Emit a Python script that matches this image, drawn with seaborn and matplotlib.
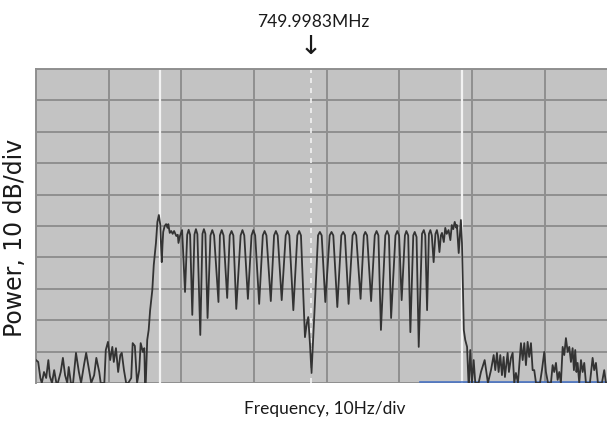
import matplotlib
matplotlib.use("Agg")
import matplotlib.pyplot as plt
import seaborn as sns

# trace: frequency (Hz from left edge), power (dB above bottom line)
noise_left_f = [0.0, 0.3, 0.6, 0.8, 1.1, 1.4, 1.7, 1.9, 2.2, 2.5, 2.8, 3.0, 3.4, 3.7, 4.0, 4.3,
                4.5, 4.8, 5.1, 5.5, 5.9, 6.2, 6.6, 6.9, 7.3, 7.6, 8.0, 8.3, 8.7, 8.9, 9.4, 9.6,
                9.9, 10.2, 10.5, 10.7, 11.0, 11.3, 11.6, 11.8, 12.1, 12.4, 12.7, 13.1, 13.3,
                13.6, 13.9, 14.2, 14.4, 14.7, 14.9, 15.0, 15.1]
noise_left_p = [7.3, 6.7, 1.6, 0.0, 3.5, 1.6, 7.3, 2.2, 0.0, 4.1, 0.0, 0.0, 3.5, 8.0, 2.5, 0.0,
                5.1, 0.0, 0.0, 9.6, 3.5, 0.0, 5.7, 9.6, 4.1, 0.0, 2.5, 8.0, 3.5, 0.0, 0.0, 10.5,
                13.1, 7.3, 11.5, 6.7, 11.1, 3.5, 8.9, 9.6, 4.1, 0.0, 0.0, 1.6, 12.7,
                11.8, 0.0, 4.1, 12.7, 9.9, 11.1, 0.0, 0.0]

rise_f = [15.3, 15.5, 15.7, 16.0, 16.2, 16.5, 16.7, 16.9, 17.1, 17.2, 17.3, 17.4, 17.5, 17.7,
          17.9, 18.1, 18.2, 18.4, 18.6, 18.8, 19.0, 19.3, 19.5, 19.6, 19.8, 20.1]
rise_p = [13.7, 16.9, 23.2, 29.6, 37.6, 44.6, 51.3, 53.5, 50.3, 43.9, 38.5, 43.9, 48.1, 50.0,
          50.6, 49.4, 50.6, 47.8, 48.4, 47.5, 48.4, 46.8, 47.2, 44.6, 46.8, 48.7]

comb_f = [20.5, 20.8, 21.0, 21.2, 21.5, 21.8, 22.0, 22.2, 22.6, 22.9, 23.1, 23.3, 23.6, 24.0,
          24.25, 24.5, 25.1, 25.3, 25.55, 25.8, 26.3, 26.65, 26.9, 27.15, 27.55, 28.15, 28.4,
          28.65, 29.15, 29.65, 29.9, 30.15, 30.7, 31.2, 31.45, 31.7, 32.3, 32.75, 33.0, 33.25,
          33.8, 34.35, 34.6, 34.85, 35.4, 35.95, 36.2, 36.45, 37.0, 37.25, 37.45, 37.7, 37.9,
          38.15, 38.4, 38.8, 39.05, 39.3, 39.8, 40.4, 40.65, 40.9, 41.45, 42.0, 42.25, 42.5,
          43.0, 43.55, 43.8, 44.05, 44.65, 45.1, 45.3, 45.55, 46.1, 46.6, 46.85, 47.1, 47.45,
          48.05, 48.3, 48.55, 48.85, 49.45, 49.7, 49.95, 50.3, 50.75, 50.95, 51.2, 51.5, 51.9,
          52.1, 52.35, 52.65, 53.1, 53.35, 53.55, 53.8, 54.05, 54.25, 54.45, 54.7, 54.95, 55.15,
          55.3, 55.5, 55.7, 55.85, 56.0, 56.1, 56.3, 56.5, 56.75, 57.0, 57.2, 57.4, 57.6, 57.8,
          57.9, 58.15, 58.45, 58.6, 58.85, 59.05, 59.3, 59.5]
comb_p = [29.0, 47.2, 48.8, 47.2, 21.7, 47.3, 49.0, 47.4, 15.3, 47.5, 49.0, 47.5, 20.7, 47.0,
          48.7, 47.0, 25.8, 47.0, 48.7, 47.0, 27.1, 47.0, 48.4, 47.0, 23.6, 47.0, 48.7,
          47.0, 26.8, 47.0, 48.7, 47.0, 25.2, 47.0, 48.4, 47.0, 26.1, 47.0, 48.4, 47.0,
          26.4, 47.0, 48.4, 47.0, 23.2, 47.0, 48.4, 47.0, 14.6, 19.0, 21.0, 12.0, 3.2,
          15.0, 27.1, 47.0, 48.1, 47.0, 25.8, 47.0, 48.1, 47.0, 24.2, 47.0, 48.1, 47.0,
          25.2, 47.0, 48.1, 47.0, 26.8, 47.0, 48.1, 47.0, 26.1, 47.0, 48.4, 47.0, 16.9,
          47.0, 48.4, 47.0, 20.7, 47.0, 48.4, 47.0, 26.4, 47.0, 48.4, 47.0, 16.2, 47.0,
          48.1, 46.5, 11.5, 47.5, 48.7, 47.0, 23.2, 47.5, 48.7, 47.0, 38.5, 47.5, 48.7,
          47.0, 41.7, 47.0, 47.8, 46.0, 44.9, 49.4, 47.5, 48.7, 45.5, 50.3, 49.0, 51.3, 49.5,
          50.3, 41.4, 51.9, 44.6, 16.9, 13.7, 11.5, 0.0]

noise_right_f = [59.56, 59.74, 59.97, 60.21, 60.43, 60.89, 61.21, 61.72, 62.17, 62.59, 62.96,
                 63.18, 63.41, 63.64, 63.87, 64.10, 64.33, 64.51, 64.88, 65.06, 65.34, 65.57,
                 65.79, 66.02, 66.30, 66.71, 66.95, 67.17, 67.40, 67.63, 67.85, 68.09, 68.32,
                 68.54, 68.78, 69.33, 69.60, 69.92, 70.15, 70.43, 70.84, 71.07, 71.29, 71.53,
                 71.76, 71.98, 72.21, 72.45, 72.67, 72.90, 73.14, 73.36, 73.59, 73.82, 74.00,
                 74.18, 74.35, 74.51, 74.73, 74.97, 75.20, 75.42, 75.65, 76.20, 76.57, 76.79,
                 77.03, 77.30, 77.85, 78.17, 78.40, 78.54]
noise_right_p = [0.0, 10.5, 0.0, 7.3, 0.0, 0.0, 3.5, 7.3, 0.0, 4.1, 8.9,
                 4.1, 9.6, 3.5, 8.9, 2.5, 8.3, 1.9, 9.6, 3.5, 8.0, 9.6,
                 0.0, 3.2, 0.0, 12.7, 7.3, 12.7, 5.7, 13.1, 8.3, 12.7, 4.1,
                 4.1, 0.0, 0.0, 4.1, 9.9, 3.5, 0.0, 0.0, 5.7, 3.5, 6.4,
                 1.0, 3.5, 0.0, 11.5, 8.9, 14.3, 9.9, 11.5, 6.7, 11.1, 4.1,
                 10.5, 3.5, 6.4, 0.0, 7.3, 3.5, 6.4, 0.0, 0.0, 8.0, 4.1,
                 6.4, 0.0, 0.0, 4.1, 0.0, 0.0]

freq = noise_left_f + rise_f + comb_f + noise_right_f
power = noise_left_p + rise_p + comb_p + noise_right_p

band_edges = [17.05, 58.65]
marker_f = 37.85
marker_label = "749.9983MHz"

fig = plt.figure(figsize=(6.07, 4.26), dpi=100)
ax = fig.add_axes([36 / 607, 43 / 426, 571 / 607, 314 / 426])
ax.set_facecolor("#c3c3c3")

ax.set_xticks(range(0, 80, 10))
ax.set_yticks(range(0, 101, 10))
ax.grid(True, color="#8f8f8f", linewidth=1.4)
ax.set_axisbelow(True)
ax.tick_params(length=0, labelbottom=False, labelleft=False)
for s in ["right", "bottom"]:
    ax.spines[s].set_visible(False)
for s in ["top", "left"]:
    ax.spines[s].set_color("#8f8f8f")
    ax.spines[s].set_linewidth(1.4)

for b in band_edges:
    ax.axvline(b, color="#f2f2f2", linewidth=1.6, zorder=1.5)
ax.axvline(marker_f, color="#f2f2f2", linewidth=1.2, linestyle=(0, (3, 3)), zorder=1.5)
ax.plot([52.8, 78.6], [0.3, 0.3], color="#4a74c4", linewidth=1.2, zorder=1.6)

sns.lineplot(x=freq, y=power, sort=False, estimator=None, color="#333333",
             linewidth=1.3, ax=ax, zorder=3)

ax.set_xlim(0, 78.55)
ax.set_ylim(0, 100)
ax.set_xlabel("")
ax.set_ylabel("")

fig.text(313 / 607, 1 - 22 / 426, marker_label, ha="center", va="center",
         fontsize=12.5, family="Lato", color="#1a1a1a")
fig.text(311 / 607, 1 - 47 / 426, "\u2193", ha="center", va="center",
         fontsize=19, family="DejaVu Sans", color="#1a1a1a")
fig.text(325 / 607, 1 - 409 / 426, "Frequency, 10Hz/div", ha="center", va="center",
         fontsize=12.5, family="Lato", color="#1a1a1a")
fig.text(15 / 607, 1 - 238 / 426, "Power, 10 dB/div", ha="center", va="center",
         rotation=90, fontsize=17, family="DejaVu Sans", color="#1a1a1a")

fig.savefig("out.png", dpi=100)
